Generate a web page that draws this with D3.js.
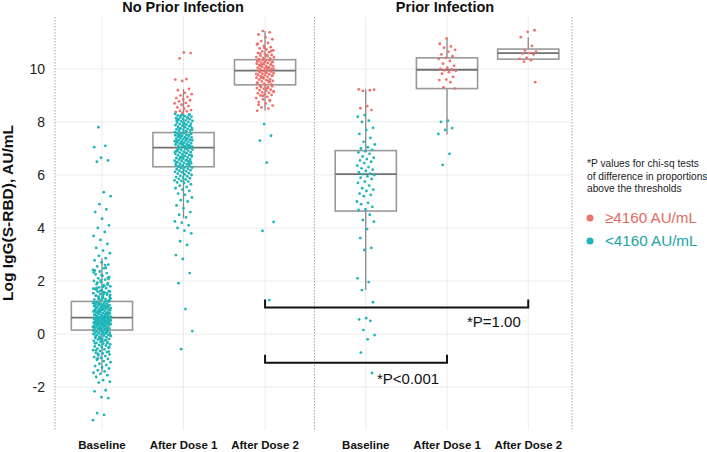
<!DOCTYPE html>
<html><head><meta charset="utf-8">
<script src="https://cdn.jsdelivr.net/npm/d3@7"></script>
<style>body{margin:0;background:#fff}svg{display:block;font-family:Arial,"Liberation Sans",sans-serif}</style>
</head><body>
<svg id="c" width="707" height="452"></svg>
<script>
const panels = ["No Prior Infection", "Prior Infection"];
const timepoints = ["Baseline", "After Dose 1", "After Dose 2"];
const yTicks = [-2, 0, 2, 4, 6, 8, 10];
const thresholdAU = 4160;
const legendLabels = ["\u22654160 AU/mL", "<4160 AU/mL"];
const noteLines = ["*P values for chi-sq tests", "of difference in proportions", "above the thresholds"];

// Box statistics, order: NP-Baseline, NP-Dose1, NP-Dose2, P-Baseline, P-Dose1, P-Dose2
const boxQ1 = [0.15, 6.31, 9.40, 4.64, 9.26, 10.37];
const boxMedian = [0.62, 7.03, 9.94, 6.03, 9.97, 10.60];
const boxQ3 = [1.23, 7.60, 10.35, 6.92, 10.42, 10.75];
const whiskerLow = [-1.46, 4.37, 8.42, 1.66, 7.53, 10.37];
const whiskerHigh = [2.86, 9.25, 11.43, 9.23, 11.12, 11.20];

const npBaseline = [-3.25,-3.05,-2.98,-2.42,-2.38,-2.16,-2.12,-1.83,-1.8,-1.74,-1.62,-1.55,-1.5,-1.46,-1.41,-1.37,-1.3,-1.26,-1.21,-1.17,-1.12,-1.06,-1.02,-0.97,-0.94,-0.9,-0.87,-0.83,-0.8,-0.77,-0.73,-0.71,-0.68,-0.64,-0.61,-0.58,-0.55,-0.52,-0.49,-0.47,-0.44,-0.41,-0.39,-0.36,-0.33,-0.31,-0.29,-0.26,-0.24,-0.21,-0.19,-0.17,-0.15,-0.12,-0.1,-0.08,-0.06,-0.04,-0.03,-0.01,0.01,0.02,0.04,0.05,0.07,0.08,0.1,0.11,0.12,0.14,-0.92,-0.66,-0.45,-0.35,-0.22,-0.14,-0.05,0.03,0.09,0.13,
0.16,0.17,0.19,0.2,0.21,0.23,0.24,0.25,0.27,0.28,0.29,0.3,0.31,0.33,0.34,0.35,0.36,0.37,0.38,0.4,0.41,0.42,0.43,0.44,0.45,0.46,0.47,0.48,0.49,0.5,0.51,0.52,0.53,0.54,0.55,0.56,0.57,0.58,0.59,0.6,0.61,0.18,0.22,0.26,0.32,0.36,0.39,0.42,0.45,0.47,0.5,0.53,0.56,0.59,0.62,0.19,0.27,0.34,0.41,0.48,0.55,0.6,
0.63,0.64,0.66,0.67,0.69,0.7,0.72,0.73,0.75,0.76,0.78,0.79,0.81,0.82,0.84,0.85,0.87,0.88,0.9,0.91,0.93,0.94,0.96,0.97,0.99,1.0,1.02,1.03,1.05,1.06,1.08,1.09,1.11,1.12,1.14,1.15,1.17,1.18,1.2,1.22,0.65,0.71,0.77,0.83,0.89,0.95,1.01,1.07,1.13,1.19,0.68,0.8,0.92,1.04,1.16,0.74,0.86,0.98,1.1,1.21,
1.25,1.28,1.3,1.33,1.36,1.39,1.42,1.45,1.48,1.51,1.54,1.57,1.6,1.63,1.66,1.7,1.73,1.76,1.8,1.84,1.88,1.92,1.96,2.0,2.05,2.1,2.15,2.2,2.25,2.3,2.36,2.42,2.48,2.55,2.62,2.7,2.78,2.86,2.95,3.05,3.15,3.25,3.4,3.55,3.7,3.85,4.0,4.1,4.35,4.6,4.7,4.9,5.2,5.35,6.5,6.55,6.65,7.05,7.1,7.8,1.27,1.35,1.44,1.53,1.62,1.71,1.82,1.94,2.08,2.22,2.4,2.5,1.31,1.47,1.58,1.68,1.86,2.02,2.33,2.6,
-0.75,-0.5,-0.27,-0.09,0.06,0.22,0.38,0.52,0.66,0.79,0.93,1.07,1.24,1.41,1.6,1.78,-0.62,-0.35,-0.18,0.0,0.29,0.44,0.57,0.72,0.88,1.0,1.15,1.34,1.5,1.74,2.12];

const npDose1 = [-0.57,0.11,0.94,1.92,2.3,2.83,2.98,3.36,3.5,3.8,3.9,4.0,4.1,4.2,4.25,4.4,4.5,4.6,4.75,4.85,5.0,5.05,5.15,5.25,5.3,5.4,5.45,5.5,5.55,5.6,5.65,5.7,5.72,5.75,5.78,5.8,5.83,5.85,5.88,5.9,5.92,5.95,5.97,6.0,6.02,6.05,6.07,6.1,6.12,6.14,6.16,6.18,6.2,6.22,6.24,6.26,6.28,6.3,
6.32,6.34,6.36,6.38,6.4,6.42,6.44,6.46,6.48,6.5,6.52,6.54,6.56,6.58,6.6,6.62,6.64,6.66,6.68,6.7,6.72,6.74,6.76,6.78,6.8,6.82,6.84,6.86,6.88,6.9,6.92,6.94,6.96,6.98,7.0,7.02,6.35,6.45,6.55,6.65,6.75,6.85,6.95,6.41,6.63,6.87,6.99,6.33,6.51,6.71,6.91,
7.04,7.05,7.07,7.08,7.1,7.12,7.13,7.15,7.17,7.18,7.2,7.22,7.23,7.25,7.27,7.28,7.3,7.32,7.33,7.35,7.37,7.38,7.4,7.42,7.43,7.45,7.47,7.48,7.5,7.52,7.53,7.55,7.57,7.58,7.11,7.21,7.31,7.41,7.51,7.06,7.16,7.26,7.36,7.46,7.56,7.09,7.29,7.49,7.59,
7.62,7.64,7.66,7.68,7.7,7.72,7.74,7.76,7.78,7.8,7.82,7.84,7.86,7.88,7.9,7.92,7.94,7.96,7.98,8.0,8.02,8.04,8.06,8.08,8.1,8.12,8.14,8.16,8.18,8.2,8.22,8.24,8.26,8.28,8.3,7.65,7.75,7.85,7.95,8.05,8.15,8.25,7.71,7.91,8.11,8.29,
8.35,8.38,8.4,8.42,8.45,8.5,8.55,8.6,8.65,8.7,8.72,8.78,8.82,8.85,8.9,8.95,9.0,9.05,9.1,9.2,9.25,9.55,9.6,9.62,10.4,10.6,10.62];

const npDose2 = [1.28,3.89,4.23,6.47,7.3,7.48,7.92,
8.42,8.5,8.55,8.62,8.7,8.75,8.8,8.85,8.9,8.95,9.0,9.02,9.05,9.08,9.1,9.12,9.15,9.18,9.2,9.22,9.25,9.28,9.3,9.32,9.35,9.38,8.65,8.82,8.98,9.14,9.27,9.36,
9.42,9.45,9.48,9.5,9.53,9.55,9.58,9.6,9.62,9.65,9.67,9.7,9.72,9.74,9.76,9.78,9.8,9.82,9.84,9.86,9.88,9.9,9.92,9.46,9.56,9.66,9.75,9.85,9.93,9.52,9.69,9.81,
9.96,9.98,10.0,10.02,10.04,10.06,10.08,10.1,10.12,10.14,10.16,10.18,10.2,10.22,10.24,10.26,10.28,10.3,10.32,10.34,9.99,10.05,10.11,10.17,10.23,10.29,10.03,10.15,10.27,10.33,
10.37,10.4,10.42,10.45,10.48,10.5,10.53,10.56,10.6,10.63,10.66,10.7,10.74,10.78,10.82,10.87,10.92,10.98,11.05,11.12,11.2,11.3,11.38,11.43,10.44,10.52,10.58,10.68,10.8,10.95];

const pBaseline = [9.23,9.2,9.17,9.22,8.6,8.52,8.45,8.26,8.2,8.05,8.0,7.78,7.7,7.55,7.4,7.25,7.15,7.05,7.0,6.95,6.9,6.85,6.8,6.7,6.65,6.6,6.55,6.5,6.45,6.35,6.3,6.25,6.2,6.15,6.1,6.05,6.03,6.0,5.95,5.9,5.85,5.75,5.7,5.6,5.5,5.45,5.4,5.3,5.25,5.2,5.0,4.95,4.9,4.8,4.7,4.68,4.5,4.3,4.24,3.96,3.62,3.25,3.17,2.1,1.96,1.66,1.2,0.6,0.55,0.5,0.15,-0.04,-0.2,-0.7,-1.47];

const pDose1 = [11.15,10.95,10.85,10.8,10.72,10.65,10.55,10.48,10.42,10.38,10.3,10.2,10.12,10.05,10.0,9.98,9.95,9.92,9.88,9.82,9.7,9.6,9.58,9.5,9.3,9.26,8.05,8.0,7.77,7.7,7.55,6.8,6.38];

const pDose2 = [11.46,11.4,11.2,10.87,10.7,10.65,10.6,10.58,10.55,10.42,10.38,10.33,10.28,9.5];

const groupValues = [npBaseline, npDose1, npDose2, pBaseline, pDose1, pDose2];

// brackets: [panel, timepoint] from -> to, y level (value), label
const brackets = [
  {from: [0, "After Dose 2"], to: [1, "After Dose 2"], y: 1.0, label: "*P=1.00"},
  {from: [0, "After Dose 2"], to: [1, "After Dose 1"], y: -1.08, label: "*P<0.001"}
];

// ---- drawing ----
const svg = d3.select("#c");
const RED = "#EE726B", TEAL = "#1CB6B8";
const threshold = Math.log(thresholdAU);
const yTop = 17, yBottom = 430;
const y = d3.scaleLinear().domain([-3.62, 11.96]).range([yBottom, yTop]);
const panelRanges = [[53, 314], [317, 577]];
const xs = panelRanges.map(r => d3.scalePoint().domain(timepoints).range(r).padding(0.6));
const borders = [55, 314.5, 572];
const gridExtents = [[55, 314], [315, 572]];

// gridlines
panels.forEach((p, pi) => {
  const g = svg.append("g");
  g.selectAll("line.h").data(yTicks).join("line")
    .attr("x1", gridExtents[pi][0]).attr("x2", gridExtents[pi][1])
    .attr("y1", d => y(d)).attr("y2", d => y(d))
    .attr("stroke", "#ececec").attr("stroke-width", 1);
  g.selectAll("line.v").data(timepoints).join("line")
    .attr("x1", d => xs[pi](d)).attr("x2", d => xs[pi](d))
    .attr("y1", yTop).attr("y2", yBottom)
    .attr("stroke", "#ececec").attr("stroke-width", 1);
});

// dashed borders
svg.selectAll("line.border").data(borders).join("line")
  .attr("x1", d => d).attr("x2", d => d).attr("y1", yTop).attr("y2", yBottom)
  .attr("stroke", "#a5a5a5").attr("stroke-width", 1).attr("stroke-dasharray", "1.5,1.5");

// boxes
const groups = [];
panels.forEach((p, pi) => timepoints.forEach((t, ti) => groups.push({pi, t, gi: pi * 3 + ti})));
const boxW = xs[0].step() * 0.75;
const bx = svg.append("g");
groups.forEach(gr => {
  const cx = xs[gr.pi](gr.t), i = gr.gi;
  bx.append("line").attr("x1", cx).attr("x2", cx).attr("y1", y(boxQ3[i])).attr("y2", y(whiskerHigh[i]))
    .attr("stroke", "#8a8a8a").attr("stroke-width", 1.3);
  bx.append("line").attr("x1", cx).attr("x2", cx).attr("y1", y(boxQ1[i])).attr("y2", y(whiskerLow[i]))
    .attr("stroke", "#8a8a8a").attr("stroke-width", 1.3);
  bx.append("rect").attr("x", cx - boxW / 2).attr("width", boxW)
    .attr("y", y(boxQ3[i])).attr("height", y(boxQ1[i]) - y(boxQ3[i]))
    .attr("fill", "white").attr("fill-opacity", 0.3).attr("stroke", "#999").attr("stroke-width", 1.6);
  bx.append("line").attr("x1", cx - boxW / 2).attr("x2", cx + boxW / 2)
    .attr("y1", y(boxMedian[i])).attr("y2", y(boxMedian[i]))
    .attr("stroke", "#707070").attr("stroke-width", 1.8);
});

// points
const pts = svg.append("g");
groups.forEach(gr => {
  const cx = xs[gr.pi](gr.t);
  const vals = groupValues[gr.gi];
  pts.selectAll(null).data(vals).join("circle")
    .attr("cx", (d, k) => cx + (((k * 0.6180339887 + gr.gi * 0.37) % 1) - 0.5) * 18)
    .attr("cy", d => y(d)).attr("r", 1.4)
    .attr("fill", d => d >= threshold ? RED : TEAL);
});

// y axis labels
svg.selectAll("text.yt").data(yTicks).join("text")
  .attr("x", 45).attr("y", d => y(d)).attr("dy", "0.35em")
  .attr("text-anchor", "end").attr("font-size", 14).attr("fill", "#222").text(d => d);
svg.append("text").attr("transform", `translate(13,${213}) rotate(-90)`)
  .attr("text-anchor", "middle").attr("font-size", 15.5).attr("font-weight", "bold").attr("fill", "#111")
  .text("Log IgG(S-RBD), AU/mL");

// x labels
panels.forEach((p, pi) => {
  svg.selectAll(null).data(timepoints).join("text")
    .attr("x", d => xs[pi](d)).attr("y", 449).attr("text-anchor", "middle")
    .attr("font-size", 11.5).attr("font-weight", "bold").attr("fill", "#111").text(d => d);
});

// panel titles
const titleX = [183, 445];
panels.forEach((p, pi) => {
  svg.append("text").attr("x", titleX[pi]).attr("y", 11.5).attr("text-anchor", "middle")
    .attr("font-size", 14.5).attr("font-weight", "bold").attr("fill", "#111").text(p);
});

// brackets
const textPos = [[467, 327], [377, 384]];
brackets.forEach((b, bi) => {
  const x1 = xs[b.from[0]](b.from[1]), x2 = xs[b.to[0]](b.to[1]);
  const yl = y(b.y), yt = yl - 8;
  svg.append("path").attr("d", `M${x1},${yt}V${yl}H${x2}V${yt}`)
    .attr("fill", "none").attr("stroke", "#111").attr("stroke-width", 2);
  svg.append("text").attr("x", textPos[bi][0]).attr("y", textPos[bi][1])
    .attr("font-size", 15).attr("fill", "#111").text(b.label);
});

// note + legend
svg.selectAll("text.note").data(noteLines).join("text")
  .attr("x", 587).attr("y", (d, i) => 167 + i * 12.5).attr("font-size", 10.2).attr("fill", "#222").text(d => d);
const legColors = [RED, TEAL];
const legText = ["#E06B64", "#22A4A3"];
legendLabels.forEach((l, i) => {
  svg.append("circle").attr("cx", 590).attr("cy", 218 + i * 23).attr("r", 3.5).attr("fill", legColors[i]);
  svg.append("text").attr("x", 605).attr("y", 218 + i * 23).attr("dy", "0.35em")
    .attr("font-size", 15.2).attr("fill", legText[i]).text(l);
});
</script>
</body></html>
